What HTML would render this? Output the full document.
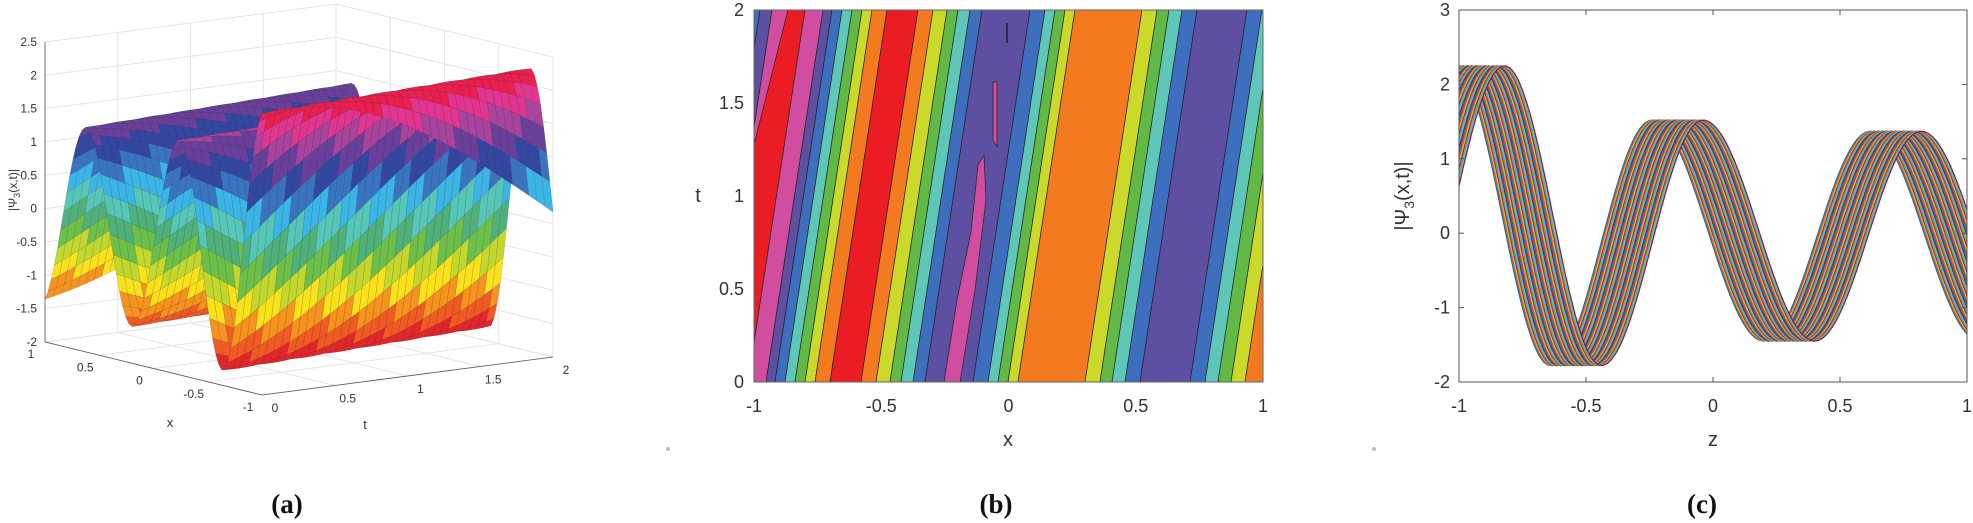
<!DOCTYPE html>
<html><head><meta charset="utf-8">
<style>
html,body{margin:0;padding:0;background:#fff;}
svg{display:block;font-family:"Liberation Sans",sans-serif;}
</style></head>
<body>
<svg id="s" width="1973" height="523" xmlns="http://www.w3.org/2000/svg">
<defs>
<clipPath id="cb"><rect x="754" y="10" width="509" height="372"/></clipPath>
<clipPath id="cc"><rect x="1459" y="10" width="508" height="372"/></clipPath>
</defs>
<g id="ga"></g>
<g id="gb" clip-path="url(#cb)"></g>
<g id="gc" clip-path="url(#cc)"></g>
<g id="gt"></g>
<circle cx="668" cy="449" r="2" fill="#bbb"/>
<circle cx="1374" cy="449" r="2" fill="#bbb"/>
<g font-family="Liberation Serif,serif" font-weight="bold" font-size="27" text-anchor="middle" fill="#111">
<text x="287" y="513">(a)</text><text x="996" y="513">(b)</text><text x="1702" y="513">(c)</text>
</g>
</svg>
<script>
var NS="http://www.w3.org/2000/svg";
function el(p,t,a,txt){var e=document.createElementNS(NS,t);for(var k in a)e.setAttribute(k,a[k]);if(txt!==undefined)e.textContent=txt;p.appendChild(e);return e;}
var E=[[-1.44,-1.9],[-1.02,2.25],[-0.64,-1.78],[-0.24,1.52],[0.2,-1.45],[0.62,1.37],[1.05,-1.45],[1.47,1.3]];
function f(z){for(var i=0;i<E.length-1;i++){if(z<=E[i+1][0]||i==E.length-2){var u=(z-E[i][0])/(E[i+1][0]-E[i][0]);u=Math.max(0,Math.min(1,u));return E[i][1]+(E[i+1][1]-E[i][1])*(1-Math.cos(Math.PI*u))/2;}}}
var gt=document.getElementById('gt');
/* ---------- Panel C ---------- */
var gc=document.getElementById('gc');
var cols=['#0072BD','#D95319','#EDB120','#7E2F8E','#77AC30','#4DBEEE','#A2142F'];
function cx(z){return 1459+(z+1)*254;} function cy(v){return 382-(v+2)*74.4;}
for(var k=0;k<42;k++){var s=k*0.2/41,d='';for(var i=0;i<=120;i++){var z=-1+2*i/120;d+=(i?'L':'M')+cx(z).toFixed(1)+','+cy(f(z-s)).toFixed(1);}
el(gc,'path',{d:d,fill:'none',stroke:cols[k%7],'stroke-width':1.3});}
el(gt,'rect',{x:1459,y:10,width:508,height:372,fill:'none',stroke:'#555','stroke-width':1});
[-1,-0.5,0,0.5,1].forEach(function(v){var x=cx(v);el(gt,'line',{x1:x,y1:382,x2:x,y2:377,stroke:'#555'});el(gt,'line',{x1:x,y1:10,x2:x,y2:15,stroke:'#555'});el(gt,'text',{x:x,y:412,'font-size':18,'text-anchor':'middle',fill:'#333'},String(v));});
[-2,-1,0,1,2,3].forEach(function(v){var y=cy(v);el(gt,'line',{x1:1459,y1:y,x2:1464,y2:y,stroke:'#555'});el(gt,'line',{x1:1967,y1:y,x2:1962,y2:y,stroke:'#555'});el(gt,'text',{x:1450,y:y+6,'font-size':18,'text-anchor':'end',fill:'#333'},String(v));});
el(gt,'text',{x:1713,y:446,'font-size':20,'text-anchor':'middle',fill:'#333'},'z');
var yl=el(gt,'text',{x:0,y:0,'font-size':20,'text-anchor':'middle',fill:'#333',transform:'translate(1409,196) rotate(-90)'});
yl.innerHTML='|Ψ<tspan font-size="14" dy="5">3</tspan><tspan dy="-5">(x,t)|</tspan>';
/* ---------- Panel B ---------- */
var gb=document.getElementById('gb');
var C={B:'#3d6fbe',P:'#5d4fa2',M:'#d14da0',R:'#ec1c24',T:'#5fc7b7',G:'#62b946',Y:'#cbd92a',O:'#f47a20'};
el(gb,'rect',{x:740,y:0,width:530,height:400,fill:C.R});
var bands=[[700,760,'B'],[760,772,'P'],[772,788,'M'],[788,805,'R'],[805,823,'M'],[823,832,'P'],[832,842,'B'],[842,852,'T'],[852,862,'G'],[862,872,'Y'],[872,887,'O'],[887,918,'R'],[918,933,'O'],[933,947,'Y'],[947,958,'G'],[958,970,'T'],[970,982,'B'],[982,1030,'P'],[1030,1045,'B'],[1045,1055,'T'],[1055,1065,'G'],[1065,1075,'Y'],[1075,1142,'O'],[1142,1157,'Y'],[1157,1169,'G'],[1169,1182,'T'],[1182,1197,'B'],[1197,1247,'P'],[1247,1262,'B'],[1262,1275,'T'],[1275,1288,'G'],[1288,1302,'Y'],[1302,1360,'O']];
var SH=57;
bands.forEach(function(b){var a=b[0],c=b[1];
 var pts=[[a,10],[c,10],[c-SH,382],[a-SH,382]];
 if(b[2]=='R'&&a==788){pts=[[a,10],[c,10],[c-SH,382],[a-SH-20,382],[740,200]];}
 el(gb,'polygon',{points:pts.map(function(p){return p.join(',')}).join(' '),fill:C[b[2]],stroke:'#222','stroke-width':0.7});});
el(gb,'polygon',{points:'944,382 960,382 975,290 986,200 984,155 978,165 971,232 957,300',fill:C.M,stroke:'#222','stroke-width':0.7});
el(gb,'polygon',{points:'993,82 997,82 997,147 993,140',fill:C.M,stroke:'#222','stroke-width':0.7});
el(gb,'line',{x1:1007,y1:23,x2:1007,y2:43,stroke:'#222','stroke-width':1.5});
el(gt,'rect',{x:754,y:10,width:509,height:372,fill:'none',stroke:'#666','stroke-width':1});
[-1,-0.5,0,0.5,1].forEach(function(v){var x=754+(v+1)*254.5;el(gt,'text',{x:x,y:412,'font-size':18,'text-anchor':'middle',fill:'#333'},String(v));});
[0,0.5,1,1.5,2].forEach(function(v){var y=382-v*186;el(gt,'text',{x:744,y:y+6,'font-size':18,'text-anchor':'end',fill:'#333'},String(v));});
el(gt,'text',{x:1008,y:446,'font-size':20,'text-anchor':'middle',fill:'#333'},'x');
el(gt,'text',{x:698,y:202,'font-size':20,'text-anchor':'middle',fill:'#333'},'t');
/* ---------- Panel A ---------- */
var ga=document.getElementById('ga');
function P(x,t,z){return [45+(1-x)/2*217+t/2*291, 342+(1-x)/2*53-t/2*38-(z+2)/4.5*300];}
function ln(a,b,st,w){el(ga,'line',{x1:a[0],y1:a[1],x2:b[0],y2:b[1],stroke:st,'stroke-width':w||1});}
var gray='#e4e4e4';
for(var z=-2;z<=2.51;z+=0.5){ln(P(1,0,z),P(1,2,z),gray);ln(P(1,2,z),P(-1,2,z),gray);}
[0,0.5,1,1.5,2].forEach(function(t){ln(P(1,t,-2),P(1,t,2.5),gray);ln(P(1,t,-2),P(-1,t,-2),gray);});
[1,0.5,0,-0.5,-1].forEach(function(x){ln(P(x,2,-2),P(x,2,2.5),gray);ln(P(x,0,-2),P(x,2,-2),gray);});
var AC=['#e3262b','#f15a22','#f6921e','#f9e11c','#c2d82e','#6cc04a','#4fb07a','#56c6b9','#3bb5e6','#3a74bf','#3346a0','#6a3f9b','#a8449c','#e2358f','#ea1f4f'];
function acol(z){var i=Math.floor((z+1.85)/4.15*AC.length);return AC[Math.max(0,Math.min(AC.length-1,i))];}
var NX=70,NT=36,q=[];
function Z(x,t){return f(x-0.115*t);}
for(var i=0;i<NX;i++)for(var j=0;j<NT;j++){
 var x0=1-2*i/NX,x1=1-2*(i+1)/NX,t0=2*j/NT,t1=2*(j+1)/NT;
 var z00=Z(x0,t0),z10=Z(x1,t0),z11=Z(x1,t1),z01=Z(x0,t1);
 var xm=(x0+x1)/2,tm=(t0+t1)/2;
 q.push({k:(1-xm)/2*53-tm/2*38,p:[P(x0,t0,z00),P(x1,t0,z10),P(x1,t1,z11),P(x0,t1,z01)],c:acol((z00+z10+z11+z01)/4)});}
q.sort(function(a,b){return a.k-b.k;});
q.forEach(function(o){el(ga,'polygon',{points:o.p.map(function(p){return p[0].toFixed(1)+','+p[1].toFixed(1)}).join(' '),fill:o.c,stroke:'#333','stroke-opacity':0.35,'stroke-width':0.4});});
ln(P(1,0,-2),P(1,0,2.5),'#555',0.8);ln(P(1,0,-2),P(-1,0,-2),'#555',0.8);ln(P(-1,0,-2),P(-1,2,-2),'#555',0.8);
[-2,-1.5,-1,-0.5,0,0.5,1,1.5,2,2.5].forEach(function(z){var p=P(1,0,z);el(ga,'text',{x:p[0]-8,y:p[1]+4,'font-size':12,'text-anchor':'end',fill:'#333'},String(z));});
[1,0.5,0,-0.5,-1].forEach(function(x){var p=P(x,0,-2);el(ga,'text',{x:p[0]-14,y:p[1]+16,'font-size':12,'text-anchor':'middle',fill:'#333'},String(x));});
[0,0.5,1,1.5,2].forEach(function(t){var p=P(-1,t,-2);el(ga,'text',{x:p[0]+13,y:p[1]+17,'font-size':12,'text-anchor':'middle',fill:'#333'},String(t));});
el(ga,'text',{x:170,y:427,'font-size':13,'text-anchor':'middle',fill:'#333'},'x');
el(ga,'text',{x:365,y:429,'font-size':13,'text-anchor':'middle',fill:'#333'},'t');
var al=el(ga,'text',{x:0,y:0,'font-size':12,'text-anchor':'middle',fill:'#333',transform:'translate(17,190) rotate(-90)'});
al.innerHTML='|Ψ<tspan font-size="9" dy="3">3</tspan><tspan dy="-3">(x,t)|</tspan>';
</script>
</body></html>
